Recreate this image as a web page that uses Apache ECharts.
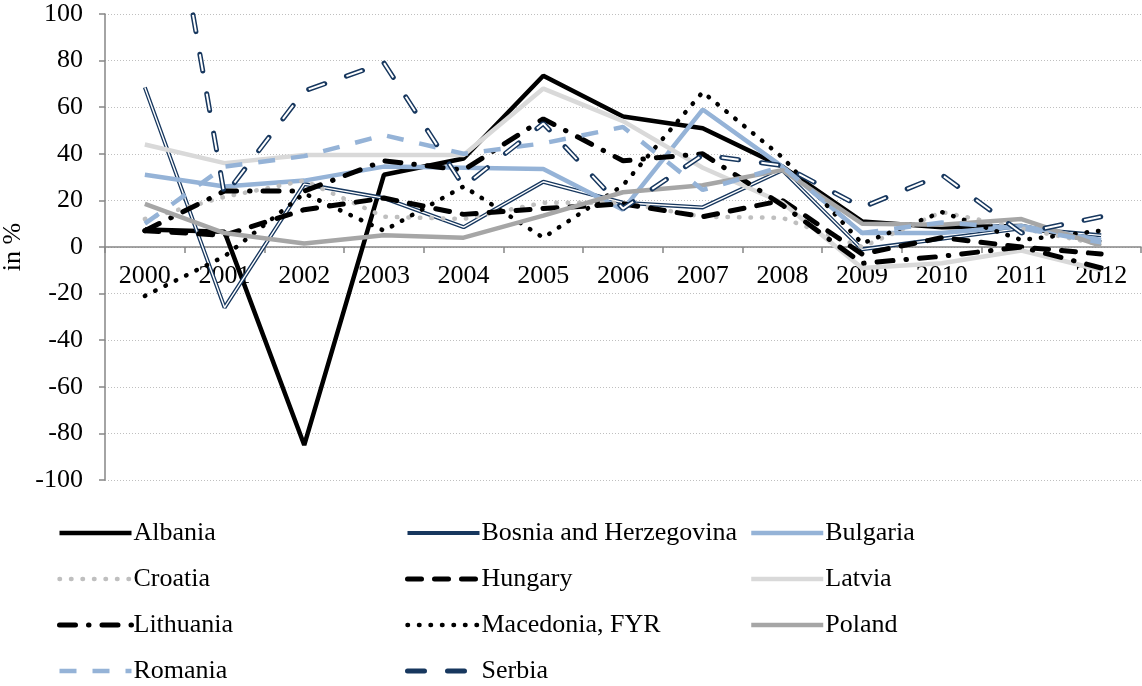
<!DOCTYPE html>
<html>
<head>
<meta charset="utf-8">
<script src="https://cdn.jsdelivr.net/npm/echarts@6/dist/echarts.min.js"></script>
<style>
  html, body { margin: 0; padding: 0; background: #fff; }
  #chart { width: 1142px; height: 686px; }
</style>
</head>
<body>
<div id="chart"></div>
<script>
// categories
const years = ['2000', '2001', '2002', '2003', '2004', '2005', '2006', '2007', '2008', '2009', '2010', '2011', '2012']
// y ticks
const yMin = -100
const yMax = 100
const yStep = 20

// series values, in %
const albania = [7.5, 6.5, -85, 31, 38, 73.5, 56, 51, 34.5, 11, 8.5, 9, 2]
const bosnia = [68.5, -26, 27, 21, 8.5, 28, 19, 17, 33, -1, 3.5, 8, 5]
const bulgaria = [31, 26, 28.5, 34.5, 34, 33.5, 16, 59, 34.5, 6, 6, 9, 3]
const croatia = [12, 21.5, 28.5, 13, 12, 19, 19, 13, 12.5, 0, 15, 8, 1]
const hungary = [7, 5, 16, 21, 14, 16.5, 18.5, 13, 20, -3, 4, 0, -3]
const latvia = [44, 36, 39.5, 39.5, 39.5, 68, 54, 34, 19, -9, -7, -1.5, -10]
const lithuania = [7, 24, 24, 37, 33, 55, 37, 40, 18, -7, -4, 0, -9]
const macedonia = [-21, -4, 23, 7, 26, 4, 26.5, 66.5, 38.5, 1.5, 15, 3, 7]
const poland = [18.5, 6, 1.5, 5, 4, 13.5, 23.5, 26.5, 33, 10, 9.5, 12, 0.5]
const romania = [10, 34.5, 39, 48, 40, 44.5, 51.5, 24.5, 34.5, 6, 10.5, 8, 2]
const serbia = [218, 22, 67, 79, 26, 53, 16.5, 39.5, 35, 17, 31, 6, 13]

const font = 'Liberation Serif'
const fontSize = 26
const navy = '#17375E'
// grid is 466px tall for -100..100, so 0 sits 233px above the bottom
const zeroOffset = -233

function line(name, data, style) {
  return {
    name: name,
    type: 'line',
    data: data,
    symbol: 'none',
    clip: true,
    lineStyle: style,
    // opacity 0 hides the circle echarts puts in the legend icon
    itemStyle: { color: style.color, opacity: 0 },
    emphasis: { disabled: true }
  }
}

function legendCol(left, names) {
  return {
    orient: 'vertical',
    left: left,
    top: 520,
    padding: 0,
    itemWidth: 72,
    itemHeight: 20,
    itemGap: 20,
    itemStyle: { opacity: 0 },
    lineStyle: { width: 'inherit' },
    textStyle: { fontFamily: font, fontSize: fontSize, color: '#000', padding: [0, 0, 0, -3] },
    data: names
  }
}

const chart = echarts.init(document.getElementById('chart'))
chart.setOption({
  animation: false,
  backgroundColor: '#fff',
  grid: { left: 105, right: 1, top: 14, bottom: 206, outerBoundsMode: 'none' },
  legend: [
    legendCol(57, ['Albania', 'Croatia', 'Lithuania', 'Romania']),
    legendCol(405, ['Bosnia and Herzegovina', 'Hungary', 'Macedonia, FYR', 'Serbia']),
    legendCol(749, ['Bulgaria', 'Latvia', 'Poland'])
  ],
  xAxis: {
    type: 'category',
    data: years,
    position: 'bottom',
    offset: zeroOffset,
    axisLine: { onZero: false, lineStyle: { color: '#868686', width: 1.5 } },
    axisTick: { show: true, length: 6, lineStyle: { color: '#868686', width: 1.5 } },
    axisLabel: { interval: 0, margin: 16, fontFamily: font, fontSize: fontSize, color: '#000' },
    splitLine: { show: false }
  },
  yAxis: {
    type: 'value',
    min: yMin,
    max: yMax,
    interval: yStep,
    name: 'in %',
    nameLocation: 'middle',
    nameGap: 79,
    nameMoveOverlap: false,
    nameRotate: 90,
    nameTextStyle: { fontFamily: font, fontSize: fontSize, color: '#000' },
    axisLine: { show: true, lineStyle: { color: '#868686', width: 1.5 } },
    axisTick: { show: true, length: 6, lineStyle: { color: '#868686', width: 1.5 } },
    axisLabel: { margin: 22, fontFamily: font, fontSize: fontSize, color: '#000' },
    splitLine: { show: true, lineStyle: { color: '#BFBFBF', type: [1, 2], width: 1 } }
  },
  series: [
    line('Albania', albania, { color: '#000', width: 4.5 }),
    line('Bosnia and Herzegovina', bosnia, { color: navy, width: 4 }),
    line('Bosnia-inner', bosnia, { color: '#fff', width: 1.4 }),
    line('Bulgaria', bulgaria, { color: '#95B3D7', width: 4.5 }),
    line('Croatia', croatia, { color: '#BFBFBF', width: 4.5, type: [0.5, 11], cap: 'round' }),
    line('Hungary', hungary, { color: '#000', width: 5, type: [14, 13], cap: 'round' }),
    line('Latvia', latvia, { color: '#D9D9D9', width: 4.5 }),
    line('Lithuania', lithuania, { color: '#000', width: 5, type: [16, 13, 0.5, 13], cap: 'round' }),
    line('Macedonia, FYR', macedonia, { color: '#000', width: 4.5, type: [0.5, 11], cap: 'round' }),
    line('Poland', poland, { color: '#A6A6A6', width: 4.5 }),
    line('Romania', romania, { color: '#95B3D7', width: 4.5, type: [17, 16] }),
    line('Serbia', serbia, { color: navy, width: 5, type: [17, 23], cap: 'round' }),
    line('Serbia-inner', serbia, { color: '#fff', width: 2, type: [17, 23] })
  ]
})
</script>
</body>
</html>
